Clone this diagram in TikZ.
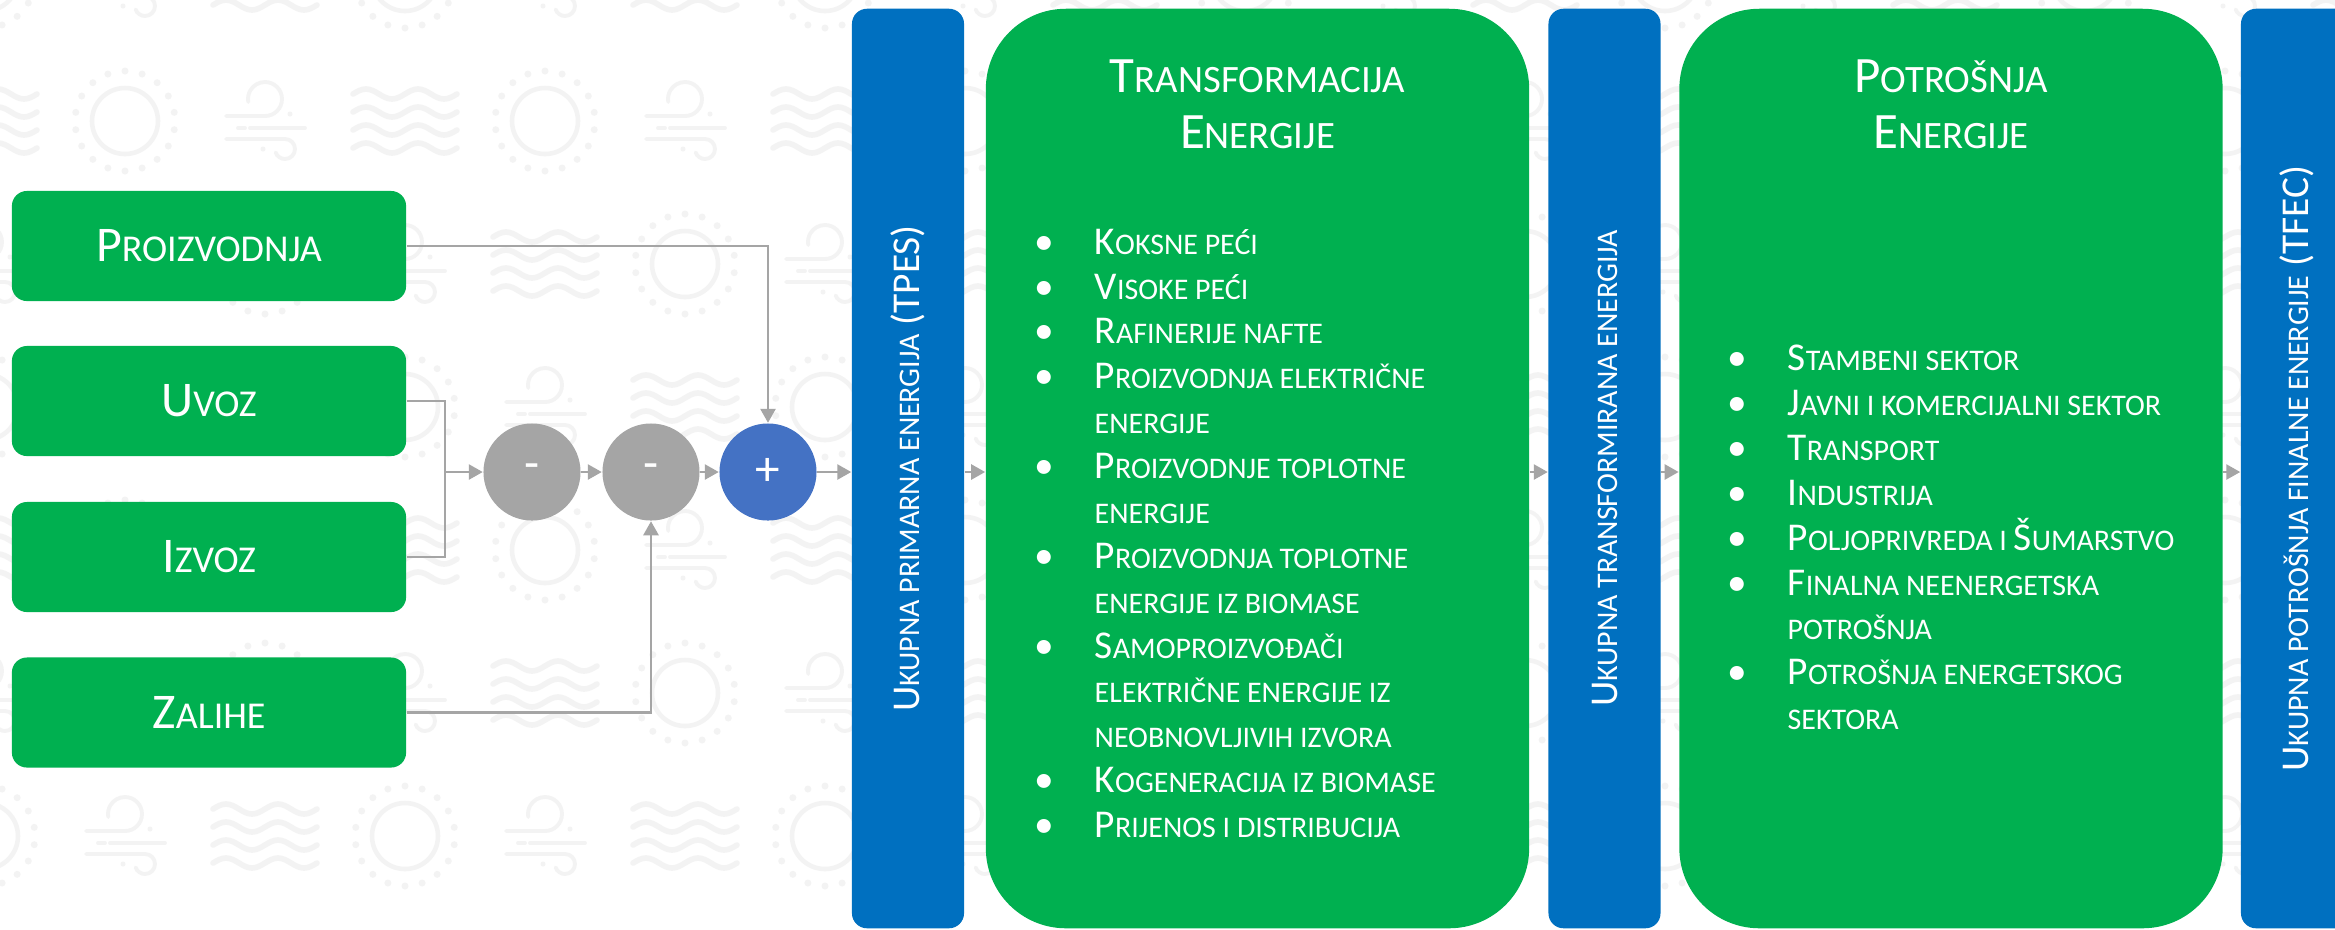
\documentclass[tikz,border=0pt]{standalone}
\usepackage{fontspec}
\setmainfont{Carlito}
\usetikzlibrary{arrows.meta}

\definecolor{boxgreen}{HTML}{00B050}
\definecolor{barblue}{HTML}{0070C0}
\definecolor{sumblue}{HTML}{4472C4}
\definecolor{lngray}{HTML}{A5A5A5}
\definecolor{wmgray}{HTML}{F3F3F3}

% small caps the way the slide fakes them
\makeatletter
\newcommand{\lc}[1]{{\@tempdima=\f@size pt\fontsize{0.76\@tempdima}{\f@baselineskip}\selectfont\MakeUppercase{#1}}}
\makeatother
\newcommand{\itm}{\makebox[0.6cm][l]{\textbullet}}
\newcommand{\cnt}{\hspace*{0.6cm}}

\tikzset{
  wm/.style={draw=wmgray, line cap=round},
  sunicon/.pic={
    \draw[wm, line width=1.3pt] (0,0) circle (33);
    \foreach \a in {10,30,...,350}
      \fill[wmgray] (\a:50) circle (3.5);
  },
  windicon/.pic={
    \draw[wm, line width=1.1pt] (-39,-5) -- (0,-5) arc[start angle=90, end angle=-190, radius=17];
    \draw[wm, line width=1.1pt] (-27,7) -- (-20,7) (-15,7) -- (40,7);
    \draw[wm, line width=1.1pt] (-39,18) -- (20,18) arc[start angle=-90, end angle=160, radius=10];
    \fill[wmgray] (25,-7) circle (2.5) (-2,28) circle (2.5);
  },
  waveicon/.pic={
    \foreach \y in {-27,-9,9,27}
      \draw[wm, line width=1.6pt] (-52,\y) sin (-39,\y-5) cos (-26,\y) sin (-13,\y+5) cos (0,\y)
        sin (13,\y-5) cos (26,\y) sin (39,\y+5) cos (52,\y);
  },
}

\begin{document}
\begin{tikzpicture}[x=0.01cm, y=-0.01cm,
    srcbox/.style={fill=boxgreen, rounded corners=0.15cm, minimum width=3.94cm, minimum height=1.1cm,
      inner sep=0pt, text=white, font=\fontsize{14.2}{17}\selectfont},
    opcirc/.style={circle, fill=lngray, minimum size=0.97cm, inner sep=0pt, text=white,
      font=\fontsize{14}{16}\selectfont},
    bar/.style={fill=barblue, rounded corners=0.15cm, minimum width=1.12cm, minimum height=9.19cm,
      inner sep=0pt, text=white, font=\fontsize{11.2}{13}\selectfont},
    stage/.style={fill=boxgreen, rounded corners=0.8cm, minimum width=5.43cm, minimum height=9.19cm, inner sep=0pt},
    stagetitle/.style={anchor=north, align=center, inner sep=0pt, text=white, font=\fontsize{14.5}{15.9}\selectfont},
    itemlist/.style={anchor=north west, align=left, inner sep=0pt, text=white, font=\fontsize{11.2}{12.76}\selectfont},
    conn/.style={draw=lngray, line width=0.75pt},
    arr/.style={-{Triangle[length=1.4mm,width=1.5mm]}}]

  \useasboundingbox (0,0) rectangle (2335,929);
  \clip (0,0) rectangle (2335,929);
  \fill[white] (0,0) rectangle (2335,929);

  % watermark
  \foreach \r in {0,...,6}
    \foreach \k in {-1,...,16}{
      \pgfmathtruncatemacro{\t}{mod(\k-\r+7,3)}
      \ifcase\t
        \pic at ({125+140*\k},{-22+143*\r}) {sunicon};
      \or
        \pic at ({125+140*\k},{-22+143*\r}) {windicon};
      \or
        \pic at ({125+140*\k},{-22+143*\r}) {waveicon};
      \fi
    }

  % sources
  \node[srcbox] (prod) at (209,246) {P\lc{roizvodnja}};
  \node[srcbox] (uvoz) at (209,401) {U\lc{voz}};
  \node[srcbox] (izvoz) at (209,557) {I\lc{zvoz}};
  \node[srcbox] (zalihe) at (209,712.5) {Z\lc{alihe}};

  \node[opcirc] (minA) at (532,472) {-};
  \node[opcirc] (minB) at (651,472) {-};
  \node[opcirc, fill=sumblue] (plus) at (768,472) {+};

  % stages
  \node[bar] (tpes) at (908,468.5) {\rotatebox{90}{U\lc{kupna primarna energija} (TPES)}};
  \node[stage] (trans) at (1257.5,468.5) {};
  \node[bar] (tran) at (1604.5,468.5) {\rotatebox{90}{U\lc{kupna transformirana energija}}};
  \node[stage] (pot) at (1951,468.5) {};
  \node[bar] (tfec) at (2297,468.5) {\rotatebox{90}{U\lc{kupna potrošnja finalne energije} (TFEC)}};

  \node[stagetitle] (transT) at (1257.5,56) {\rule{0pt}{0.36cm}T\lc{ransformacija}\\E\lc{nergije}};
  \node[itemlist] (transL) at (1034,223.5) {\rule{0pt}{0.3cm}\itm K\lc{oksne peći}\\
    \itm V\lc{isoke peći}\\
    \itm R\lc{afinerije nafte}\\
    \itm P\lc{roizvodnja električne}\\
    \cnt\lc{energije}\\
    \itm P\lc{roizvodnje toplotne}\\
    \cnt\lc{energije}\\
    \itm P\lc{roizvodnja toplotne}\\
    \cnt\lc{energije iz biomase}\\
    \itm S\lc{amoproizvođači}\\
    \cnt\lc{električne energije iz}\\
    \cnt\lc{neobnovljivih izvora}\\
    \itm K\lc{ogeneracija iz biomase}\\
    \itm P\lc{rijenos i distribucija}};

  \node[stagetitle] (potT) at (1951,56) {\rule{0pt}{0.36cm}P\lc{otrošnja}\\E\lc{nergije}};
  \node[itemlist] (potL) at (1727,340) {\rule{0pt}{0.3cm}\itm S\lc{tambeni sektor}\\
    \itm J\lc{avni i komercijalni sektor}\\
    \itm T\lc{ransport}\\
    \itm I\lc{ndustrija}\\
    \itm P\lc{oljoprivreda i }Š\lc{umarstvo}\\
    \itm F\lc{inalna neenergetska}\\
    \cnt\lc{potrošnja}\\
    \itm P\lc{otrošnja energetskog}\\
    \cnt\lc{sektora}};

  % connectors
  \coordinate (join) at (445,472);
  \draw[conn,arr] (prod.east) -| (plus.north);
  \draw[conn] (uvoz.east) -| (join);
  \draw[conn] (izvoz.east) -| (join);
  \draw[conn,arr] (join) -- (minA.west);
  \draw[conn,arr] (minA.east) -- (minB.west);
  \draw[conn,arr] (minB.east) -- (plus.west);
  \draw[conn,arr] (zalihe.east) -| (minB.south);
  \draw[conn,arr] (plus.east) -- (plus.east -| tpes.west);
  \draw[conn,arr] (tpes.east |- plus) -- (trans.west |- plus);
  \draw[conn,arr] (trans.east |- plus) -- (tran.west |- plus);
  \draw[conn,arr] (tran.east |- plus) -- (pot.west |- plus);
  \draw[conn,arr] (pot.east |- plus) -- (tfec.west |- plus);
\end{tikzpicture}
\end{document}
